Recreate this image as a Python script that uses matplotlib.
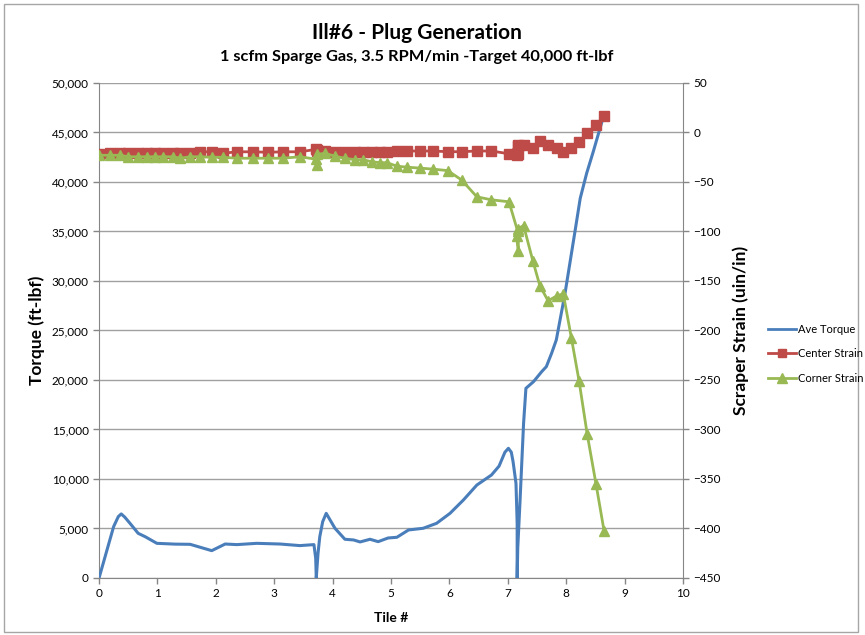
import matplotlib
matplotlib.use("Agg")
import matplotlib.pyplot as plt
from matplotlib.patches import Rectangle
from matplotlib.ticker import FuncFormatter, MultipleLocator
from matplotlib.lines import Line2D

plt.rcParams['font.family'] = ['Lato', 'DejaVu Sans']

# ---- Data ----
torque_x = [0, 0.25, 0.33, 0.38, 0.44, 0.53, 0.67, 0.79, 0.99, 1.30, 1.56, 1.93, 2.16, 2.36, 2.70, 3.10,
            3.44, 3.68, 3.71, 3.72, 3.75, 3.78, 3.83, 3.89, 4.04, 4.21, 4.36, 4.47, 4.64,
            4.78, 4.95, 5.10, 5.30, 5.55, 5.78, 6.01, 6.24, 6.47, 6.72, 6.85, 6.95, 7.01, 7.06, 7.09,
            7.14, 7.16, 7.16, 7.17, 7.21, 7.27, 7.31, 7.44, 7.58, 7.66, 7.75, 7.83, 7.98,
            8.15, 8.24, 8.35, 8.46, 8.62]
torque_y = [0, 5190, 6200, 6470, 6150, 5520, 4510, 4170, 3500, 3420, 3400, 2760, 3430, 3370, 3500, 3430,
            3270, 3370, 2000, 0, 2490, 4170, 5690, 6530, 5020, 3910, 3840, 3640, 3910,
            3670, 4040, 4110, 4850, 5020, 5520, 6530, 7880, 9390, 10400, 11300, 12700, 13100, 12700, 11750,
            9560, 5520, 0, 3000, 7880, 15630, 19160, 19830, 20840, 21350, 22700, 24040, 28760,
            35000, 38350, 40880, 43000, 46260]

strain_x = [0, 0.19, 0.36, 0.50, 0.67, 0.82, 0.96, 1.10, 1.27, 1.39, 1.56, 1.73, 1.94, 2.12,
            2.36, 2.64, 2.89, 3.15, 3.44, 3.72, 3.73, 3.74, 3.87, 4.04, 4.21, 4.38, 4.52,
            4.67, 4.81, 4.93, 5.10, 5.27, 5.50, 5.72, 5.97, 6.21, 6.47, 6.72, 7.02, 7.17,
            7.15, 7.18, 7.18, 7.27, 7.43, 7.55, 7.69, 7.84, 7.95, 8.09, 8.22, 8.36, 8.51, 8.65]
center_strain = [-22, -21, -21, -20.5, -20.5, -20.5, -20.5, -20.5, -20.5, -20.5, -20.5, -19.5, -19.5, -21,
                 -19.5, -19.5, -20, -19.5, -19.5, -17, -18, -19, -19, -19.5, -19.5, -19.5, -19.5,
                 -19.5, -19.5, -19.5, -19, -18.7, -18.7, -18.7, -19.4, -19.4, -18.7, -18.7, -21.5, -13,
                 -23, -22, -14, -13, -16, -9, -13, -15.5, -19.5, -15.5, -10, -1, 7.6, 16.7]
corner_strain = [-23, -23, -23, -24.5, -24.5, -24.5, -24.5, -24.5, -24.5, -26, -24.5, -24.5, -25, -25,
                 -26, -26, -26, -26, -24.5, -27, -33, -22, -21, -24, -26, -27.5, -27.5,
                 -29.5, -30.5, -30.5, -34, -35, -36, -37, -38.5, -48, -65, -68, -70, -100,
                 -105, -120, -97, -94, -130, -155, -170, -165, -163, -208, -251, -305, -355, -403]

blue = '#4A7EBB'
red = '#BE4B48'
green = '#98B954'

fig = plt.figure(figsize=(8.65, 6.35), dpi=100)
fig.patches.append(Rectangle((0.005, 0.004), 0.987, 0.99, transform=fig.transFigure,
                             fill=False, edgecolor='#A6A6A6', linewidth=1.0))
ax = fig.add_axes([0.1145, 0.0898, 0.6751, 0.7795])
ax2 = ax.twinx()

ax.plot(torque_x, torque_y, color=blue, lw=2.2, solid_joinstyle='round', zorder=3)
ax2.plot(strain_x, center_strain, color=red, lw=2.0, marker='s', markersize=7,
         markeredgecolor=red, zorder=3)
ax2.plot(strain_x, corner_strain, color=green, lw=2.0, marker='^', markersize=7.5,
         markeredgecolor=green, zorder=3)

ax.set_xlim(0, 10)
ax.set_ylim(0, 50000)
ax2.set_ylim(-450, 50)
ax.xaxis.set_major_locator(MultipleLocator(1))
ax.yaxis.set_major_locator(MultipleLocator(5000))
ax2.yaxis.set_major_locator(MultipleLocator(50))
ax.yaxis.set_major_formatter(FuncFormatter(lambda v, p: f"{int(v):,}"))

ax.grid(axis='y', color='#A0A0A0', lw=1.0)
ax.set_axisbelow(True)

for a in (ax, ax2):
    a.spines['top'].set_visible(False)
    for s in ('left', 'right', 'bottom'):
        a.spines[s].set_color('#868686')
    a.tick_params(colors='#868686', labelcolor='black', labelsize=8.5, length=4, width=1)
ax.spines['right'].set_visible(False)
ax2.spines['left'].set_visible(False)
ax2.spines['bottom'].set_visible(False)

ax.set_xlabel('Tile #', fontsize=10, fontweight='bold', labelpad=9)
ax.set_ylabel('Torque (ft-lbf)', fontsize=12.5, fontweight='bold', labelpad=5)
ax2.set_ylabel('Scraper Strain (uin/in)', fontsize=12.5, fontweight='bold', labelpad=8)

fig.text(0.482, 0.948, 'Ill#6 - Plug Generation', ha='center', va='center',
         fontsize=15, fontweight='bold')
fig.text(0.482, 0.910, '1 scfm Sparge Gas, 3.5 RPM/min -Target 40,000 ft-lbf', ha='center',
         va='center', fontsize=11.8, fontweight='bold')

handles = [Line2D([], [], color=blue, lw=2),
           Line2D([], [], color=red, lw=2, marker='s', markersize=6),
           Line2D([], [], color=green, lw=2, marker='^', markersize=6.5)]
fig.legend(handles, ['Ave Torque', 'Center Strain', 'Corner Strain'],
           loc='center left', bbox_to_anchor=(0.888, 0.443), frameon=False,
           fontsize=8, handlelength=2.5, handletextpad=0.2, labelspacing=1.2,
           borderaxespad=0, borderpad=0)

fig.savefig('out.png', dpi=100)
